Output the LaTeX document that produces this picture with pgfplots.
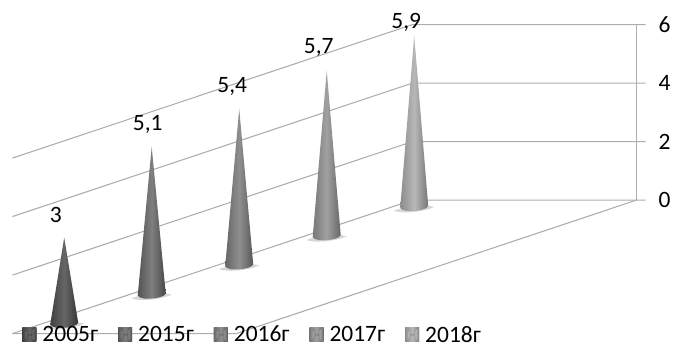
\documentclass[border=0pt]{standalone}
\usepackage{fontspec}
\setmainfont{Carlito}
\usepackage{pgfplots}
\usepackage{pgfplotstable}
\pgfplotsset{compat=1.18}

% cone outline: dh, dp are offsets in px from the base centre, f is the share of the height
\pgfplotstableread{
dh dp f
0 0 1
14 -2.5 0
12 -0.4 0
8 1.2 0
3 2.2 0
-3 2.6 0
-8 2.4 0
-12 1.2 0
-14 -0.6 0
}\coneoutline
% soft shadow around the base
\pgfplotstableread{
dh dp f
20 -1.5 0
15 0.5 0
8 2.2 0
0 3.4 0
-8 3.9 0
-15 3.5 0
-20 2.2 0
-15 0.5 0
-8 -1 0
0 -2.5 0
10 -3.5 0
}\coneshadow

\definecolor{gridgrey}{gray}{0.68}
\definecolor{edgeA}{gray}{0.25}\definecolor{midA}{gray}{0.40}
\definecolor{edgeB}{gray}{0.33}\definecolor{midB}{gray}{0.50}
\definecolor{edgeC}{gray}{0.40}\definecolor{midC}{gray}{0.56}
\definecolor{edgeD}{gray}{0.47}\definecolor{midD}{gray}{0.63}
\definecolor{edgeE}{gray}{0.55}\definecolor{midE}{gray}{0.72}

\newcommand{\swatch}[2]{%
  \fill[#2] (0pt,-5pt) rectangle (10.5pt,5.5pt);
  \fill[#1] (0pt,-5pt) -- (5.25pt,0.25pt) -- (0pt,5.5pt) -- cycle;
  \fill[#1!70!white] (0pt,5.5pt) -- (5.25pt,0.25pt) -- (10.5pt,5.5pt) -- cycle;
  \fill[#1!45!white] (10.5pt,5.5pt) -- (5.25pt,0.25pt) -- (10.5pt,-5pt) -- cycle;
}

% #1 position, #2 value, #3 printed value, #4 #5 label offset in px, #6 edge grey, #7 centre grey, #8 legend text
\newcommand{\cone}[8]{%
  \addplot3[forget plot, draw=none, fill=black, fill opacity=0.16, smooth]
    table[x expr={#1-\thisrow{dp}/29.2}, y expr={(\thisrow{dh}+\thisrow{dp}*2.9966)/224}, z expr={\thisrow{f}*#2}] {\coneshadow} -- cycle;
  \addplot3[draw=none, left color=#6, right color=#6!85!black, middle color=#7,
      legend image code/.code={\swatch{#6}{#7}}]
    table[x expr={#1-\thisrow{dp}/29.2}, y expr={(\thisrow{dh}+\thisrow{dp}*2.9966)/224}, z expr={\thisrow{f}*#2}] {\coneoutline} -- cycle;
  \addlegendentry{\hspace{2.5pt}#8}
  \node[anchor=base, xshift=#4*0.75pt, yshift=#5*0.75pt, font=\fontsize{17.6pt}{19pt}\selectfont]
    at (axis cs:#1,0,#2) {#3};
}

% one level of the value scale: gridline round the walls, tick and its number
\newcommand{\level}[1]{%
  \addplot3[forget plot, gridgrey, line width=0.8pt] coordinates {(-0.285,-0.12,#1) (4.288,-0.12,#1) (4.288,0.88,#1) (4.288,0.92,#1)};
  \node[anchor=center, font=\fontsize{17.6pt}{19pt}\selectfont, xshift=21pt] at (axis cs:4.288,0.88,#1) {#1};
}

\begin{document}
\begin{tikzpicture}[x=0.75pt,y=0.75pt]
\useasboundingbox (0,0) rectangle (674,345);
\begin{axis}[
  at={(67.5,23)}, anchor=origin,
  x={(65.625pt,21.9pt)}, y={(168pt,0pt)}, z={(0pt,21.94pt)},
  xmin=-0.285, xmax=4.288, ymin=-0.12, ymax=0.88, zmin=0, zmax=6,
  clip=false,
  hide axis,
  legend columns=5,
  legend style={draw=none, fill=none, at={(0.02,0)}, anchor=south west,
    xshift=-1.8pt, yshift=-9.8pt,
    font=\fontsize{17.6pt}{19pt}\selectfont, inner sep=0pt, outer sep=0pt,
    /tikz/every even column/.append style={column sep=13pt}},
]
% floor outline
\addplot3[forget plot, gridgrey, line width=0.8pt] coordinates {(-0.285,-0.12,0) (-0.285,0.88,0) (4.288,0.88,0)};
% upright of the value scale
\addplot3[forget plot, gridgrey, line width=0.9pt] coordinates {(4.288,0.88,0) (4.288,0.88,6)};
\level{0}
\level{2}
\level{4}
\level{6}

\cone{0}{3}{3}{-8.5}{15}{edgeA}{midA}{2005г}
\cone{1}{5.1}{5,1}{-4}{16}{edgeB}{midB}{2015г}
\cone{2}{5.4}{5,4}{-7}{16}{edgeC}{midC}{2016г}
\cone{3}{5.7}{5,7}{-8}{17}{edgeD}{midD}{2017г}
\cone{4}{5.9}{5,9}{-8}{7}{edgeE}{midE}{2018г}
\end{axis}
\end{tikzpicture}
\end{document}
